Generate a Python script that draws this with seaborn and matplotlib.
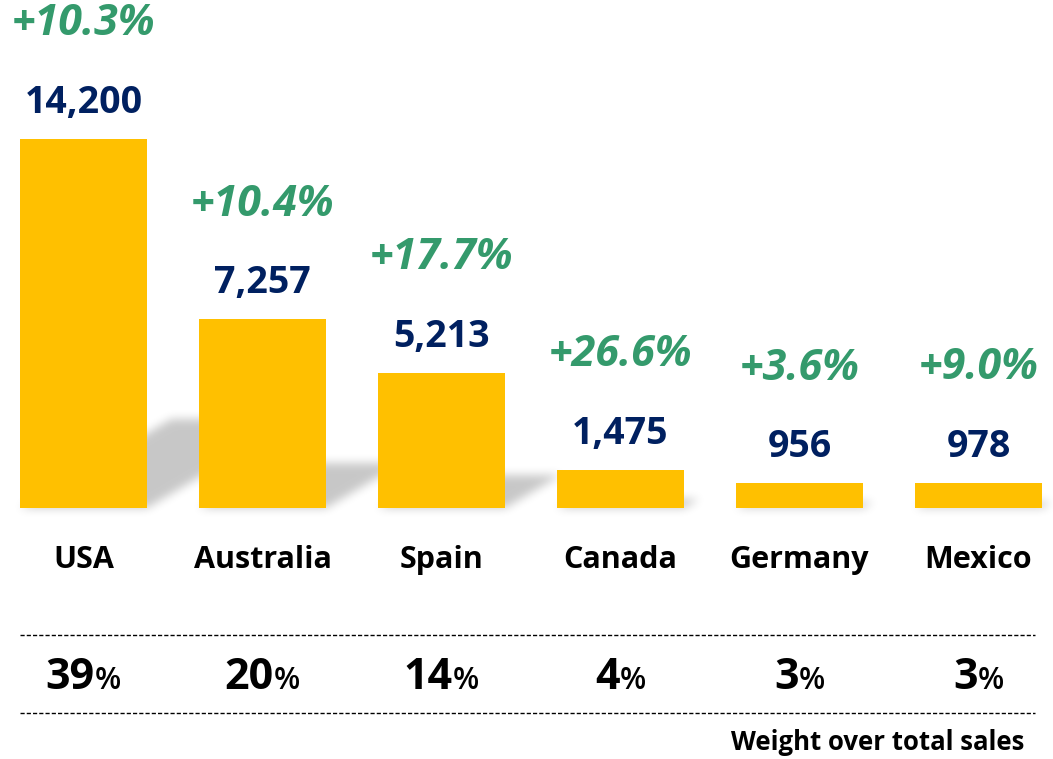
import numpy as np
import pandas as pd
import seaborn as sns
import matplotlib.pyplot as plt
from matplotlib.offsetbox import TextArea, HPacker, AnnotationBbox

countries = ['USA', 'Australia', 'Spain', 'Canada', 'Germany', 'Mexico']
sales = [14200, 7257, 5213, 1475, 956, 978]
growth = ['+10.3%', '+10.4%', '+17.7%', '+26.6%', '+3.6%', '+9.0%']
weight = [39, 20, 14, 4, 3, 3]

df = pd.DataFrame({'country': countries, 'sales': sales})

sns.set_theme(style='white')
plt.rcParams['font.family'] = ['Open Sans', 'DejaVu Sans']

W, H = 1053, 759
fig = plt.figure(figsize=(W / 100, H / 100), dpi=100)
ax = fig.add_axes([0, 0, 1, 1])

xlim = (-0.466, 5.416)
ylim = (-9659, 19549)
bar_w = 0.71

sns.barplot(data=df, x='country', y='sales', color='#FFC000', width=bar_w,
            saturation=1, linewidth=0, ax=ax, zorder=3)

# soft skewed shadow behind each bar
px_x = W / (xlim[1] - xlim[0])
px_y = H / (ylim[1] - ylim[0])
base_row = ylim[1] * px_y
cols = np.arange(W) + 0.5
rows = np.arange(H) + 0.5
CX, RY = np.meshgrid(cols, rows)
mask = np.zeros((H, W))
for i, v in enumerate(sales):
    xl = (i - bar_w / 2 - xlim[0]) * px_x
    xr = (i + bar_w / 2 - xlim[0]) * px_x
    sh = 0.24 * v * px_y
    t = base_row - RY
    inside = (t >= 0) & (t <= sh) & (CX >= xl + 1.7 * t) & (CX <= xr + 1.7 * t)
    mask[inside] = 1.0


def box_blur(a, k):
    ker = np.ones(k) / k
    a = np.apply_along_axis(lambda r: np.convolve(r, ker, mode='same'), 1, a)
    a = np.apply_along_axis(lambda c: np.convolve(c, ker, mode='same'), 0, a)
    return a


mask = box_blur(box_blur(box_blur(mask, 9), 9), 9)
img = np.zeros((H, W, 4))
img[..., 3] = mask * 0.22
ax.imshow(img, extent=(xlim[0], xlim[1], ylim[0], ylim[1]), aspect='auto',
          interpolation='bilinear', zorder=1)

for i, v in enumerate(sales):
    ax.annotate(f'{v:,}', xy=(i, v), xytext=(0, 36), textcoords='offset pixels',
                ha='center', va='center', fontsize=27, fontweight='bold', color='#002060')
    ax.annotate(growth[i], xy=(i, v), xytext=(0, 115), textcoords='offset pixels',
                ha='center', va='center', fontsize=31, fontweight='bold',
                fontstyle='italic', color='#349A6C')
    ax.annotate(countries[i], xy=(i, 0), xytext=(0, -52), textcoords='offset pixels',
                ha='center', va='center', fontsize=22, fontweight='bold', color='black')
    box = HPacker(children=[
        TextArea(str(weight[i]), textprops=dict(fontsize=31, fontweight='bold', color='black')),
        TextArea('%', textprops=dict(fontsize=22, fontweight='semibold', color='black')),
    ], align='baseline', pad=0, sep=0)
    ab = AnnotationBbox(box, (i, -169 / px_y), frameon=False, box_alignment=(0.5, 0.5))
    ax.add_artist(ab)

for yf in [1 - 635 / H, 1 - 713 / H]:
    fig.add_artist(plt.Line2D([20 / W, 1035 / W], [yf, yf], color='black', lw=1,
                              ls=(0, (3, 1.5)), transform=fig.transFigure))

fig.text(1024 / W, 1 - 742 / H, 'Weight over total sales', ha='right', va='center',
         fontsize=18.5, fontweight='bold', color='black')

ax.set_xlim(*xlim)
ax.set_ylim(*ylim)
ax.axis('off')

fig.savefig('out.png', dpi=100)
